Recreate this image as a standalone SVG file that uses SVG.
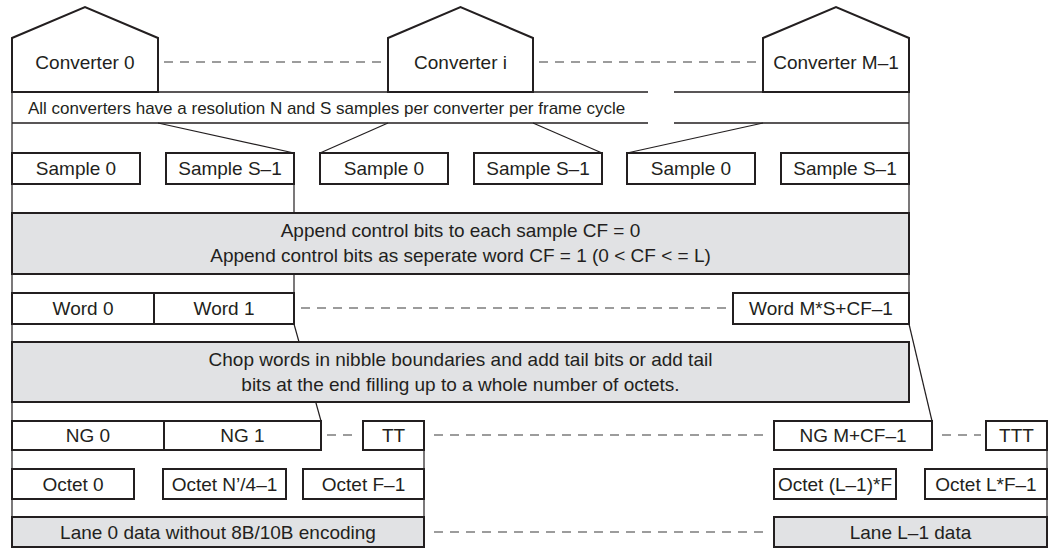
<svg xmlns="http://www.w3.org/2000/svg" width="1055" height="550" viewBox="0 0 1055 550">
  <style>
    .box { fill: #ffffff; stroke: #231f20; stroke-width: 2; }
    .shade { fill: #e1e2e4; stroke: #231f20; stroke-width: 2; }
    .conv { fill: #ffffff; stroke: #231f20; stroke-width: 2; stroke-linejoin: miter; }
    .thin { fill: none; stroke: #231f20; stroke-width: 1.2; }
    .band { fill: none; stroke: #231f20; stroke-width: 1.6; }
    .dash { fill: none; stroke: #3a3a3a; stroke-width: 1.1; stroke-dasharray: 9 7; }
    text { font-family: "Liberation Sans", Arial, sans-serif; font-size: 19px; fill: #231f20; text-anchor: middle; }
    .small { font-size: 17px; text-anchor: start; }
  </style>

  <!-- connectors: spines, fan-out lines and dashed continuations -->
  <g id="connectors">
    <line class="thin" x1="12" y1="38" x2="12" y2="547"/>
    <line class="thin" x1="909" y1="38" x2="909" y2="324"/>
    <line class="thin" x1="294" y1="184" x2="294" y2="213"/>
    <line class="thin" x1="294" y1="274" x2="294" y2="293"/>
    <line class="thin" x1="424" y1="450" x2="424" y2="469"/>
    <line class="thin" x1="424" y1="499" x2="424" y2="517"/>
    <line class="thin" x1="1047" y1="450" x2="1047" y2="469"/>
    <line class="thin" x1="1047" y1="499" x2="1047" y2="517"/>

    <!-- band edges (broken between converter i and M-1) -->
    <path class="band" d="M12,92 H648 M674,92 H909 M12,123 H648 M674,123 H909"/>

    <!-- converter to sample fan lines -->
    <line class="thin" x1="158" y1="123" x2="294" y2="153"/>
    <line class="thin" x1="388" y1="123" x2="320" y2="153"/>
    <line class="thin" x1="533" y1="123" x2="602" y2="153"/>
    <line class="thin" x1="763" y1="123" x2="627" y2="153"/>

    <!-- word to nibble group lines -->
    <line class="thin" x1="294" y1="324" x2="321" y2="421"/>
    <line class="thin" x1="909" y1="324" x2="932" y2="421"/>

    <!-- dashed continuations -->
    <line class="dash" x1="164" y1="62" x2="382" y2="62"/>
    <line class="dash" x1="539" y1="62" x2="757" y2="62"/>
    <line class="dash" x1="301" y1="308" x2="728" y2="308"/>
    <line class="dash" x1="327" y1="435" x2="359" y2="435"/>
    <line class="dash" x1="434" y1="435" x2="768" y2="435"/>
    <line class="dash" x1="942" y1="435" x2="981" y2="435"/>
    <line class="dash" x1="434" y1="532" x2="768" y2="532"/>
  </g>

  <!-- converters -->
  <g id="converter-0">
    <path class="conv" d="M12,92 V38 L85,7 L158,38 V92 Z"/>
    <text x="85" y="68.5">Converter 0</text>
  </g>
  <g id="converter-i">
    <path class="conv" d="M388,92 V38 L460.5,7 L533,38 V92 Z"/>
    <text x="460.5" y="68.5">Converter i</text>
  </g>
  <g id="converter-m1">
    <path class="conv" d="M763,92 V38 L836,7 L909,38 V92 Z"/>
    <text x="836" y="68.5">Converter M–1</text>
  </g>

  <g id="resolution-band">
    <text class="small" x="28" y="114">All converters have a resolution N and S samples per converter per frame cycle</text>
  </g>

  <!-- samples -->
  <g id="sample-0a"><rect class="box" x="12" y="153" width="128" height="31"/><text x="76" y="175">Sample 0</text></g>
  <g id="sample-s1a"><rect class="box" x="166" y="153" width="128" height="31"/><text x="230" y="175">Sample S–1</text></g>
  <g id="sample-0b"><rect class="box" x="320" y="153" width="128" height="31"/><text x="384" y="175">Sample 0</text></g>
  <g id="sample-s1b"><rect class="box" x="474" y="153" width="128" height="31"/><text x="538" y="175">Sample S–1</text></g>
  <g id="sample-0c"><rect class="box" x="627" y="153" width="128" height="31"/><text x="691" y="175">Sample 0</text></g>
  <g id="sample-s1c"><rect class="box" x="781" y="153" width="128" height="31"/><text x="845" y="175">Sample S–1</text></g>

  <g id="control-bits">
    <rect class="shade" x="12" y="213" width="897" height="61"/>
    <text x="460.5" y="237">Append control bits to each sample CF = 0</text>
    <text x="460.5" y="262">Append control bits as seperate word CF = 1 (0 &lt; CF &lt; = L)</text>
  </g>

  <!-- words -->
  <g id="word-0"><rect class="box" x="12" y="293" width="142" height="31"/><text x="83" y="315">Word 0</text></g>
  <g id="word-1"><rect class="box" x="154" y="293" width="140" height="31"/><text x="224" y="315">Word 1</text></g>
  <g id="word-last"><rect class="box" x="733" y="293" width="176" height="31"/><text x="821" y="315">Word M*S+CF–1</text></g>

  <g id="chop-words">
    <rect class="shade" x="12" y="342" width="897" height="60"/>
    <text x="460.5" y="366">Chop words in nibble boundaries and add tail bits or add tail</text>
    <text x="460.5" y="391">bits at the end filling up to a whole number of octets.</text>
  </g>

  <!-- nibble groups -->
  <g id="ng-0"><rect class="box" x="12" y="421" width="152" height="29"/><text x="88" y="442">NG 0</text></g>
  <g id="ng-1"><rect class="box" x="164" y="421" width="157" height="29"/><text x="242.5" y="442">NG 1</text></g>
  <g id="tt"><rect class="box" x="363" y="421" width="61" height="29"/><text x="393.5" y="442">TT</text></g>
  <g id="ng-last"><rect class="box" x="774" y="421" width="158" height="29"/><text x="853" y="442">NG M+CF–1</text></g>
  <g id="ttt"><rect class="box" x="986" y="421" width="61" height="29"/><text x="1016.5" y="442">TTT</text></g>

  <!-- octets -->
  <g id="octet-0"><rect class="box" x="12" y="469" width="122" height="30"/><text x="73" y="491">Octet 0</text></g>
  <g id="octet-n4"><rect class="box" x="163" y="469" width="123" height="30"/><text x="224.5" y="491">Octet N’/4–1</text></g>
  <g id="octet-f1"><rect class="box" x="303" y="469" width="121" height="30"/><text x="363.5" y="491">Octet F–1</text></g>
  <g id="octet-l1f"><rect class="box" x="774" y="469" width="122" height="30"/><text x="835" y="491">Octet (L–1)*F</text></g>
  <g id="octet-lf1"><rect class="box" x="925" y="469" width="122" height="30"/><text x="986" y="491">Octet L*F–1</text></g>

  <!-- lanes -->
  <g id="lane-0"><rect class="shade" x="12" y="517" width="412" height="30"/><text x="218" y="539">Lane 0 data without 8B/10B encoding</text></g>
  <g id="lane-last"><rect class="shade" x="774" y="517" width="273" height="30"/><text x="910.5" y="539">Lane L–1 data</text></g>
</svg>
